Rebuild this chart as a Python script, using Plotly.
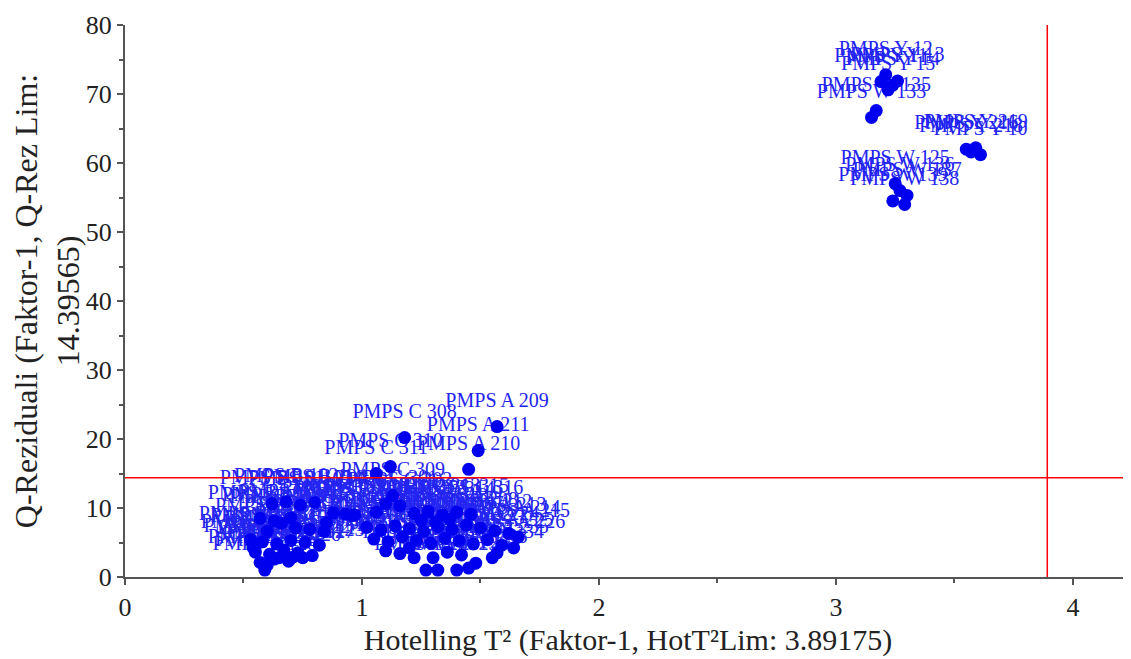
import plotly.graph_objects as go

# sample names, Hotelling T2 and Q residuals
names = [
    "PMPS Y 12", "PMPS Y 11", "PMPS Y 14", "PMPS Y 13", "PMPS Y 15",
    "PMPS W 135", "PMPS W 133",
    "PMPS Y 216", "PMPS Y 218", "PMPS Y 10", "PMPS Y 219",
    "PMPS W 125", "PMPS W 136", "PMPS W 139", "PMPS W 138", "PMPS W 137",
    "PMPS A 209", "PMPS C 308", "PMPS A 211", "PMPS A 210", "PMPS C 310",
    "PMPS C 311", "PMPS C 309",
    "PMPS B 101", "PMPS B 102", "PMPS B 103", "PMPS B 104", "PMPS B 105",
    "PMPS B 106", "PMPS B 107", "PMPS B 108", "PMPS B 109", "PMPS B 110",
    "PMPS B 111", "PMPS B 112", "PMPS B 113", "PMPS B 114", "PMPS B 115",
    "PMPS B 116", "PMPS B 117", "PMPS B 118", "PMPS B 119", "PMPS B 120",
    "PMPS B 121", "PMPS B 122", "PMPS B 123", "PMPS B 124", "PMPS B 125",
    "PMPS B 126", "PMPS B 127", "PMPS B 128", "PMPS B 129", "PMPS B 130",
    "PMPS B 131", "PMPS B 132", "PMPS B 133", "PMPS B 134", "PMPS B 135",
    "PMPS B 136",
    "PMPS C 301", "PMPS C 302", "PMPS C 312", "PMPS C 313", "PMPS C 314",
    "PMPS C 315", "PMPS C 316", "PMPS C 317", "PMPS C 318", "PMPS C 319",
    "PMPS C 320", "PMPS C 321",
    "PMPS A 201", "PMPS A 202", "PMPS A 203", "PMPS A 204", "PMPS A 205",
    "PMPS A 206", "PMPS A 207", "PMPS A 208", "PMPS A 212", "PMPS A 213",
    "PMPS A 214", "PMPS A 215", "PMPS A 216", "PMPS A 217", "PMPS A 218",
    "PMPS A 219", "PMPS A 220", "PMPS A 221", "PMPS A 222", "PMPS A 223",
    "PMPS A 224", "PMPS A 225", "PMPS A 226", "PMPS A 227", "PMPS A 228",
    "PMPS A 229", "PMPS A 230", "PMPS A 231", "PMPS A 232", "PMPS A 233",
    "PMPS A 234", "PMPS A 235", "PMPS A 236", "PMPS A 237", "PMPS A 238",
    "PMPS A 239", "PMPS A 240",
]
hotelling_t2 = [
    3.21, 3.19, 3.24, 3.26, 3.22,
    3.17, 3.15,
    3.55, 3.57, 3.61, 3.59,
    3.25, 3.27, 3.24, 3.29, 3.30,
    1.57, 1.18, 1.49, 1.45, 1.12,
    1.06, 1.13,
    0.62, 0.68, 0.74, 0.80, 0.57,
    0.63, 0.70, 0.66, 0.88, 0.93,
    0.96, 0.85, 0.53, 0.58, 0.64,
    0.70, 0.76, 0.82, 0.55, 0.61,
    0.67, 0.73, 0.79, 0.57, 0.63,
    0.69, 0.75, 0.59, 0.60, 0.65,
    0.71, 0.54, 0.84, 0.78, 0.60,
    0.72,
    1.10, 1.16, 1.22, 1.28, 1.34,
    1.40, 1.46, 1.25, 1.31, 1.37,
    0.97, 1.06,
    1.02, 1.08, 1.14, 1.20, 1.26,
    1.32, 1.38, 1.44, 1.50, 1.56,
    1.62, 1.66, 1.05, 1.11, 1.17,
    1.23, 1.29, 1.35, 1.41, 1.47,
    1.53, 1.59, 1.64, 1.10, 1.16,
    1.22, 1.30, 1.36, 1.42, 1.48,
    1.55, 1.57, 1.27, 1.32, 1.40,
    1.45, 1.20,
]
q_residuals = [
    72.8, 71.8, 71.3, 71.9, 70.6,
    67.6, 66.6,
    62.0, 61.6, 61.2, 62.2,
    57.0, 56.0, 54.5, 54.0, 55.3,
    21.8, 20.2, 18.3, 15.6, 16.0,
    15.0, 11.8,
    10.6, 10.9, 10.4, 10.8, 8.5,
    8.1, 8.6, 7.8, 9.3, 9.1,
    8.9, 7.9, 5.4, 5.1, 4.8,
    5.3, 5.0, 4.6, 3.6, 3.3,
    3.9, 3.5, 3.1, 2.1, 2.6,
    2.3, 2.8, 1.0, 1.7, 2.8,
    2.9, 4.3, 6.6, 6.9, 6.6,
    7.1,
    10.6, 10.3, 9.2, 9.5, 9.0,
    9.4, 9.1, 8.2, 8.0, 8.4,
    9.0, 9.4,
    7.2, 6.8, 7.4, 7.0, 6.6,
    7.3, 6.9, 7.5, 7.1, 6.7,
    6.3, 5.8, 5.5, 5.1, 5.8,
    5.3, 4.9, 5.6, 5.2, 4.8,
    5.4, 4.6, 4.2, 3.8, 3.4,
    2.8, 2.8, 3.6, 3.2, 2.0,
    2.8, 3.5, 1.0, 1.0, 1.0,
    1.3, 4.2,
]

hot_lim = 3.89175
q_lim = 14.39565

font = "Liberation Serif, serif"

fig = go.Figure()
# labels (invisible wide marker just to push text a bit higher above the dot)
fig.add_trace(go.Scatter(
    x=hotelling_t2, y=q_residuals, text=names,
    mode="markers+text", textposition="top center",
    marker=dict(color="#0000ff", size=22, opacity=0),
    textfont=dict(family=font, size=20, color="#2424f2"),
    cliponaxis=False, hoverinfo="skip",
))
fig.add_trace(go.Scatter(
    x=hotelling_t2, y=q_residuals, text=names,
    mode="markers",
    marker=dict(color="#0000ee", size=13),
    cliponaxis=False,
))

fig.add_shape(type="line", xref="x", yref="paper", x0=hot_lim, x1=hot_lim, y0=0, y1=1,
              line=dict(color="#ff0000", width=1.5))
fig.add_shape(type="line", xref="paper", yref="y", x0=0, x1=1, y0=q_lim, y1=q_lim,
              line=dict(color="#ff0000", width=1.5))

axis_common = dict(
    showgrid=False, zeroline=False, showline=True, linecolor="#555555", linewidth=2,
    ticks="outside", ticklen=6, tickcolor="#555555", tickwidth=1.5,
    tickfont=dict(family=font, size=26, color="#222222"),
    automargin=False,
)
fig.update_xaxes(
    range=[0, 4.245], dtick=1, tick0=0,
    minor=dict(dtick=0.5, ticks="outside", ticklen=4, tickcolor="#555555"),
    title=dict(text="Hotelling T² (Faktor-1, HotT²Lim: 3.89175)",
               font=dict(family=font, size=30, color="#222222"), standoff=8),
    **axis_common,
)
fig.update_yaxes(
    range=[0, 80], dtick=10, tick0=0,
    minor=dict(dtick=5, ticks="outside", ticklen=4, tickcolor="#555555"),
    title=dict(text="Q-Reziduali (Faktor-1, Q-Rez Lim:<br>14.39565)",
               font=dict(family=font, size=32, color="#222222"), standoff=10),
    **axis_common,
)

# the page body adds an 8px margin, so the figure is a bit smaller than the window
fig.update_layout(
    width=1123, height=651,
    margin=dict(l=117, r=0, t=17, b=82),
    plot_bgcolor="white", paper_bgcolor="white",
    showlegend=False,
)

fig.write_html("out.html")
